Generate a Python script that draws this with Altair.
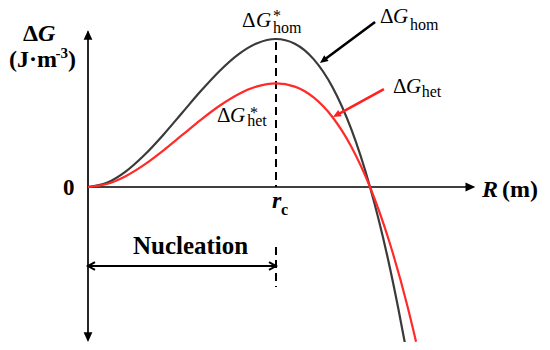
import altair as alt
import pandas as pd

# ---- curve values (R in units of r_c, ΔG in units of ΔG*_hom)
r_hom = [0, 0.1, 0.2, 0.3, 0.4, 0.5, 0.6, 0.7, 0.8, 0.9, 1.0, 1.1, 1.2, 1.3, 1.4, 1.5, 1.6, 1.65, 1.685]
g_hom = [0, 0.028, 0.104, 0.216, 0.352, 0.5, 0.648, 0.784, 0.896, 0.972, 1.0, 0.968, 0.864, 0.676, 0.392, 0.0, -0.512, -0.818, -1.05]
r_het = [0, 0.1, 0.2, 0.3, 0.4, 0.5, 0.6, 0.7, 0.8, 0.9, 1.0, 1.1, 1.2, 1.3, 1.4, 1.5, 1.6, 1.7, 1.745]
g_het = [0, 0.020, 0.073, 0.151, 0.246, 0.35, 0.454, 0.549, 0.627, 0.680, 0.70, 0.678, 0.605, 0.473, 0.274, 0.0, -0.358, -0.809, -1.045]

# ---- axis / guide segments
axis_x1 = [0, 0];      axis_y1 = [0, -1.035]
axis_x2 = [2.05, 0];   axis_y2 = [0, 1.05]
dash_x1 = [1, 1];      dash_y1 = [0.98, -0.405]
dash_x2 = [1, 1];      dash_y2 = [0, -0.676]
nuc_x = [0.01, 0.99];  nuc_y = [-0.534, -0.534]
ann_x1 = [1.527, 1.574]; ann_y1 = [1.115, 0.662]
ann_x2 = [1.255, 1.327]; ann_y2 = [0.858, 0.489]
ann_col = ["#000000", "#ff2020"]

# arrow heads
head_x = [0, 0, 2.06, 1.234, 1.303]
head_y = [1.06, -1.047, 0, 0.838, 0.473]
head_ang = [0, 180, 90, 233, 241]
head_col = ["#000000", "#000000", "#000000", "#000000", "#ff2020"]
head_size = [380, 380, 380, 256, 256]
nuc_head_x = [0, 1]
nuc_head_y = [-0.534, -0.534]
nuc_head_ang = [270, 90]

# ---- text pieces
bold_txt = ["Δ", "(J·m", "-3", ")", "0", "(m)", "c", "Nucleation"]
bold_x = [-0.346, -0.420, -0.173, -0.106, -0.133, 2.202, 1.027, 0.239]
bold_y = [0.986, 0.811, 0.872, 0.811, -0.054, -0.068, -0.189, -0.453]
bold_sz = [24, 24, 15, 24, 23, 24, 16, 25]

bi_txt = ["G", "R", "r"]
bi_x = [-0.266, 2.096, 0.979]
bi_y = [0.986, -0.068, -0.142]
bi_sz = [24, 24, 24]

cm_txt = ["Δ", "*", "hom", "Δ", "hom", "Δ", "het", "Δ", "*", "het"]
cm_x = [0.819, 0.984, 0.984, 1.553, 1.713, 1.622, 1.775, 0.686, 0.862, 0.847]
cm_y = [1.081, 1.122, 1.041, 1.108, 1.061, 0.635, 0.608, 0.439, 0.466, 0.412]
cm_sz = [21, 16, 16, 21, 16, 21, 16, 21, 16, 16]

ci_txt = ["G", "G", "G", "G"]
ci_x = [0.894, 1.622, 1.691, 0.755]
ci_y = [1.081, 1.108, 0.635, 0.439]
ci_sz = [21, 21, 21, 21]

XS = alt.Scale(domain=[-0.4255, 2.4149], nice=False, zero=False)
YS = alt.Scale(domain=[-1.0473, 1.2095], nice=False, zero=False)


def X(f):
    return alt.X(f + ":Q", scale=XS, axis=None)


def Y(f):
    return alt.Y(f + ":Q", scale=YS, axis=None)


hom = pd.DataFrame({"x": r_hom, "y": g_hom})
het = pd.DataFrame({"x": r_het, "y": g_het})

l_hom = alt.Chart(hom).mark_line(color="#3a3a3a", strokeWidth=2.2, interpolate="monotone").encode(x=X("x"), y=Y("y"))
l_het = alt.Chart(het).mark_line(color="#ff2a2a", strokeWidth=2.2, interpolate="monotone").encode(x=X("x"), y=Y("y"))

axes = alt.Chart(pd.DataFrame({"x": axis_x1, "y": axis_y1, "x2": axis_x2, "y2": axis_y2})).mark_rule(
    color="black", strokeWidth=1.7).encode(x=X("x"), y=Y("y"), x2="x2:Q", y2="y2:Q")

dashes = alt.Chart(pd.DataFrame({"x": dash_x1, "y": dash_y1, "x2": dash_x2, "y2": dash_y2})).mark_rule(
    color="black", strokeWidth=2, strokeDash=[8, 5]).encode(x=X("x"), y=Y("y"), x2="x2:Q", y2="y2:Q")

nuc = alt.Chart(pd.DataFrame({"x": [nuc_x[0]], "y": [nuc_y[0]], "x2": [nuc_x[1]], "y2": [nuc_y[1]]})).mark_rule(
    color="black", strokeWidth=2).encode(x=X("x"), y=Y("y"), x2="x2:Q", y2="y2:Q")

ann = alt.Chart(pd.DataFrame({"x": ann_x1, "y": ann_y1, "x2": ann_x2, "y2": ann_y2, "c": ann_col})).mark_rule(
    strokeWidth=2.6).encode(x=X("x"), y=Y("y"), x2="x2:Q", y2="y2:Q", color=alt.Color("c:N", scale=None))

heads = alt.Chart(pd.DataFrame({"x": head_x, "y": head_y, "a": head_ang, "c": head_col, "s": head_size})).mark_point(
    shape="M0,0L0.45,1L-0.45,1Z", filled=True, opacity=1, strokeWidth=0).encode(
    x=X("x"), y=Y("y"), angle=alt.Angle("a:Q", scale=None), color=alt.Color("c:N", scale=None),
    size=alt.Size("s:Q", scale=None))

nuc_heads = alt.Chart(pd.DataFrame({"x": nuc_head_x, "y": nuc_head_y, "a": nuc_head_ang})).mark_point(
    shape="M-0.55,1L0,0L0.55,1", filled=False, opacity=1, strokeWidth=2, color="black", size=196).encode(
    x=X("x"), y=Y("y"), angle=alt.Angle("a:Q", scale=None))


def texts(t, x, y, s, **kw):
    df = pd.DataFrame({"t": t, "x": x, "y": y, "s": s})
    return alt.Chart(df).mark_text(align="left", baseline="alphabetic", color="black",
                                   font="Liberation Serif", **kw).encode(
        x=X("x"), y=Y("y"), text="t:N", size=alt.Size("s:Q", scale=None))


t_bold = texts(bold_txt, bold_x, bold_y, bold_sz, fontWeight="bold")
t_bi = texts(bi_txt, bi_x, bi_y, bi_sz, fontWeight="bold", fontStyle="italic")
t_cm = texts(cm_txt, cm_x, cm_y, cm_sz)
t_ci = texts(ci_txt, ci_x, ci_y, ci_sz, fontStyle="italic")

chart = alt.layer(axes, dashes, nuc, l_hom, l_het, ann, heads, nuc_heads, t_bold, t_bi, t_cm, t_ci).properties(
    width=534, height=334, autosize=alt.AutoSizeParams(type="none"), padding=0,
    background="white").configure_view(stroke=None)

chart.save("out.html", embed_options={"renderer": "svg", "actions": False})
